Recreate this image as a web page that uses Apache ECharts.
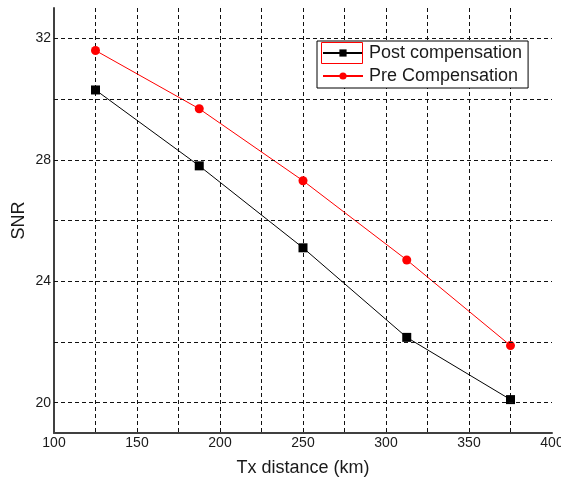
<!DOCTYPE html>
<html>
<head>
<meta charset="utf-8">
<script src="https://cdn.jsdelivr.net/npm/echarts@6/dist/echarts.min.js"></script>
<style>
  html, body { margin: 0; padding: 0; background: #fff; }
  #chart { width: 561px; height: 481px; }
</style>
</head>
<body>
<div id="chart"></div>
<script>
// Transmission distance (km) and SNR for both compensation schemes
const distances = [125, 187.5, 250, 312.5, 375];
const postCompensation = [30.3, 27.8, 25.1, 22.15, 20.1];
const preCompensation = [31.6, 29.68, 27.31, 24.7, 21.88];

// Axis labelling
const xTickLabels = [100, 150, 200, 250, 300, 350, 400];
const yTickLabels = [20, 24, 28, 32];
const yGridValues = [20, 22, 24, 26, 28, 30, 32];

const FONT = 'Liberation Sans, Arial, sans-serif';
const gridDash = { color: '#111111', width: 1, type: [4, 3] };

const chart = echarts.init(document.getElementById('chart'), null, { renderer: 'canvas' });

chart.setOption({
  backgroundColor: '#ffffff',
  animation: false,
  grid: { left: 54, right: 9, top: 8, bottom: 48, containLabel: false, outerBoundsMode: 'none' },
  xAxis: {
    type: 'value',
    min: 100,
    max: 400,
    interval: 25,
    name: 'Tx distance (km)',
    nameLocation: 'middle',
    nameGap: 26,
    nameTextStyle: { fontFamily: FONT, fontSize: 18, color: '#1a1a1a' },
    axisLine: { show: true, lineStyle: { color: '#404040', width: 2 } },
    axisTick: { show: false },
    axisLabel: {
      fontFamily: FONT, fontSize: 14, color: '#1a1a1a', margin: 3,
      formatter: v => (xTickLabels.includes(v) ? String(v) : '')
    },
    splitLine: { show: true, showMinLine: false, showMaxLine: false, lineStyle: gridDash }
  },
  yAxis: {
    type: 'value',
    min: 19,
    max: 33,
    interval: 1,
    name: 'SNR',
    nameLocation: 'middle',
    nameGap: 26,
    nameMoveOverlap: false,
    nameTextStyle: { fontFamily: FONT, fontSize: 18, color: '#1a1a1a' },
    axisLine: { show: true, lineStyle: { color: '#404040', width: 2 } },
    axisTick: { show: false },
    axisLabel: {
      fontFamily: FONT, fontSize: 14, color: '#1a1a1a', margin: 3,
      formatter: v => (yTickLabels.includes(v) ? String(v) : '')
    },
    splitLine: { show: false }
  },
  legend: {
    orient: 'vertical',
    left: 317,
    top: 41,
    width: 214,
    padding: [3, 6, 3, 5],
    itemGap: 5,
    itemWidth: 40,
    itemHeight: 9,
    backgroundColor: '#ffffff',
    borderColor: '#000000',
    borderWidth: 1,
    borderRadius: 0,
    textStyle: { fontFamily: FONT, fontSize: 18, color: '#1a1a1a', padding: [0, 0, 0, 1] },
    data: ['Post compensation', 'Pre Compensation']
  },
  graphic: [{
    type: 'rect',
    z: 100,
    shape: { x: 321.5, y: 42.5, width: 41, height: 21 },
    style: { fill: 'none', stroke: '#ff0000', lineWidth: 1 }
  }],
  series: [
    {
      name: 'Post compensation',
      type: 'line',
      data: distances.map((d, i) => [d, postCompensation[i]]),
      symbol: 'rect',
      symbolSize: 9,
      lineStyle: { color: '#000000', width: 1 },
      itemStyle: { color: '#000000' },
      z: 3,
      markLine: {
        silent: true,
        symbol: 'none',
        label: { show: false },
        lineStyle: gridDash,
        emphasis: { disabled: true },
        data: yGridValues.map(v => ({ yAxis: v }))
      }
    },
    {
      name: 'Pre Compensation',
      type: 'line',
      data: distances.map((d, i) => [d, preCompensation[i]]),
      symbol: 'circle',
      symbolSize: 9,
      lineStyle: { color: '#ff0000', width: 1 },
      itemStyle: { color: '#ff0000' },
      z: 3
    }
  ]
});
</script>
</body>
</html>
